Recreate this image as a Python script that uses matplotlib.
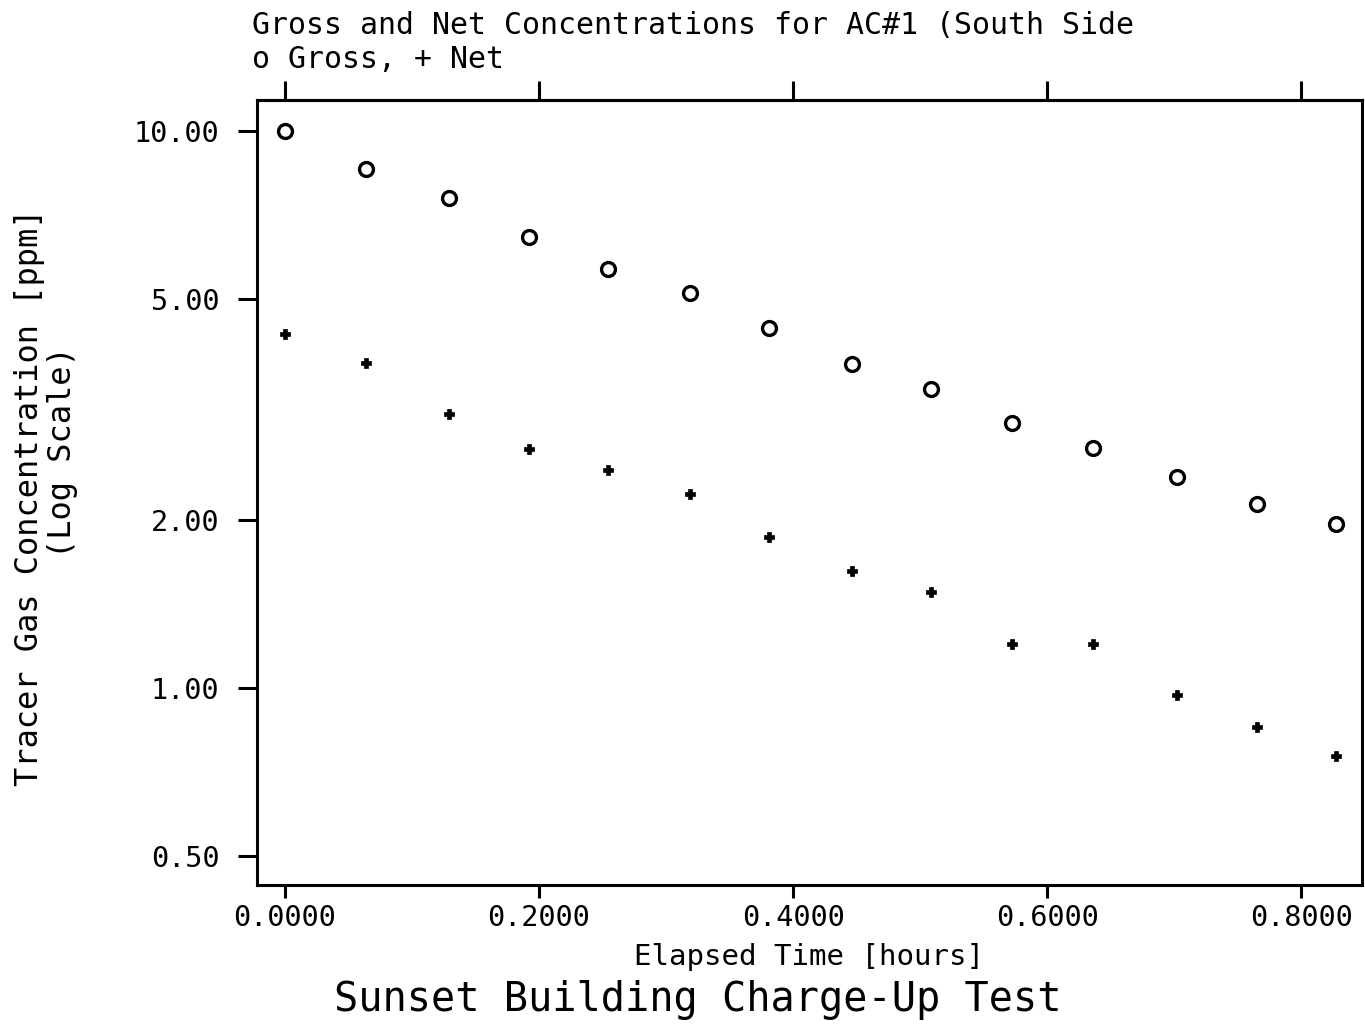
import numpy as np
import matplotlib
matplotlib.use("Agg")
import matplotlib.pyplot as plt
from matplotlib.ticker import FixedLocator, FormatStrFormatter, NullLocator

# elapsed time [hours]
hours = [0.0, 0.0638, 0.1291, 0.1921, 0.2543, 0.3189, 0.3811,
         0.4465, 0.5087, 0.5724, 0.6362, 0.7024, 0.7654, 0.8276]
# tracer gas concentration [ppm]
gross = [10.0, 8.55, 7.58, 6.45, 5.65, 5.12, 4.43,
         3.82, 3.44, 2.99, 2.70, 2.39, 2.14, 1.97]
net = [4.32, 3.83, 3.10, 2.69, 2.46, 2.23, 1.87,
       1.62, 1.49, 1.20, 1.20, 0.971, 0.851, 0.755]

x_ticks = [0.0, 0.2, 0.4, 0.6, 0.8]
y_ticks = [0.5, 1.0, 2.0, 5.0, 10.0]

plt.rcParams["font.family"] = "DejaVu Sans Mono"

fig = plt.figure(figsize=(13.65, 10.29), dpi=100)
ax = fig.add_axes([0.1883, 0.1399, 0.8095, 0.7629])

ax.plot(hours, gross, "o", ms=10, mfc="none", mec="black", mew=2.4)
ax.plot(hours, net, "P", ms=7, mfc="black", mec="black", mew=0.5)

ax.set_yscale("log")
ax.set_xlim(-0.022, 0.848)
ax.set_ylim(0.443, 11.37)

ax.yaxis.set_major_locator(FixedLocator(y_ticks))
ax.yaxis.set_minor_locator(NullLocator())
ax.yaxis.set_major_formatter(FormatStrFormatter("%.2f"))
ax.xaxis.set_major_locator(FixedLocator(x_ticks))
ax.xaxis.set_major_formatter(FormatStrFormatter("%.4f"))

for s in ax.spines.values():
    s.set_linewidth(2.2)

ax.tick_params(axis="y", direction="out", length=14, width=2.2,
               labelsize=20.5, pad=13)
ax.tick_params(axis="x", direction="out", length=9, width=2.2,
               labelsize=20.5, pad=5)

top = ax.secondary_xaxis("top")
top.xaxis.set_major_locator(FixedLocator(x_ticks))
top.tick_params(direction="out", length=14, width=2.2, labeltop=False)
top.spines["top"].set_linewidth(2.2)

fig.text(252 / 1365, 1 - 25 / 1029, "Gross and Net Concentrations for AC#1 (South Side",
         fontsize=21.5, ha="left", va="center")
fig.text(252 / 1365, 1 - 60 / 1029, "o Gross, + Net",
         fontsize=21.5, ha="left", va="center")

fig.text(809 / 1365, 1 - 957 / 1029, "Elapsed Time [hours]",
         fontsize=21, ha="center", va="center")
fig.text(698 / 1365, 1 - 1000 / 1029, "Sunset Building Charge-Up Test",
         fontsize=29, ha="center", va="center")

fig.text(30 / 1365, 1 - 497 / 1029, "Tracer Gas Concentration [ppm]",
         fontsize=23, rotation=90, ha="center", va="center")
fig.text(63 / 1365, 1 - 452 / 1029, "(Log Scale)",
         fontsize=23, rotation=90, ha="center", va="center")

fig.savefig("out.png", dpi=100)
